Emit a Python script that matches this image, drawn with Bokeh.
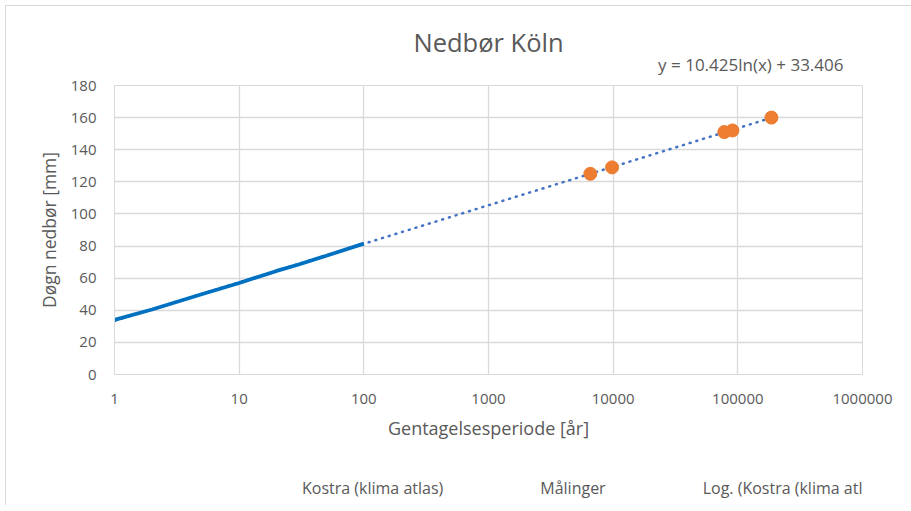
from bokeh.plotting import figure
from bokeh.layouts import column
from bokeh.models import (Range1d, FixedTicker, CustomJSTickFormatter, Legend, LegendItem, Title)
from bokeh.embed import file_html
from bokeh.resources import INLINE
import math

# ---- data ----
kostra_T = [1, 2, 5, 10, 20, 30, 50, 100]
kostra_mm = [34.0, 40.5, 50.0, 57.0, 64.5, 68.5, 74.0, 81.5]
maal_T = [6560, 9800, 77900, 90500, 186000]
maal_mm = [125.0, 129.0, 151.0, 152.0, 160.0]
trend_a = 10.425
trend_b = 33.406
trend_T = [1, 186000]
x_ticks = [1, 10, 100, 1000, 10000, 100000, 1000000]
y_ticks = [0, 20, 40, 60, 80, 100, 120, 140, 160, 180]

trend_mm = [trend_a * math.log(t) + trend_b for t in trend_T]

FONT = "Open Sans"
TXT = "#595959"
GRID = "#d9d9d9"
KOSTRA_C = "#0070C0"
MAAL_C = "#ED7D31"
TREND_C = "#4472C4"

p = figure(frame_width=748, frame_height=289, x_axis_type="log",
           x_range=Range1d(1, 1000000), y_range=Range1d(0, 180),
           output_backend="svg", toolbar_location=None,
           min_border_left=108, min_border_right=49,
           min_border_top=79, min_border_bottom=84)

p.outline_line_color = GRID
p.background_fill_color = "white"

# title
p.title.text = "Nedbør Köln"
p.title.align = "center"
p.title.text_font = FONT
p.title.text_font_size = "25.5px"
p.title.text_font_style = "normal"
p.title.text_color = TXT
p.title.standoff = -37

eq = Title(text="y = 10.425ln(x) + 33.406", align="right", offset=19,
           text_font=FONT, text_font_size="17px", text_font_style="normal",
           text_color=TXT, standoff=20)
p.add_layout(eq, "above")

# axes
p.xaxis.ticker = FixedTicker(ticks=x_ticks, minor_ticks=[])
p.xaxis.formatter = CustomJSTickFormatter(code="return tick.toFixed(0);")
p.yaxis.ticker = FixedTicker(ticks=y_ticks, minor_ticks=[])
for ax in (p.xaxis[0], p.yaxis[0]):
    ax.axis_line_color = GRID
    ax.major_tick_line_color = None
    ax.minor_tick_line_color = None
    ax.major_tick_out = 0
    ax.major_label_text_font = FONT
    ax.major_label_text_font_size = "15px"
    ax.major_label_text_color = TXT
    ax.axis_label_text_font = FONT
    ax.axis_label_text_font_style = "normal"
    ax.axis_label_text_color = TXT
p.xaxis.axis_label_text_font_size = "18px"
p.yaxis.axis_label_text_font_size = "17.5px"
p.xaxis.major_label_standoff = 19
p.yaxis.major_label_standoff = 18
p.xaxis.axis_label = "Gentagelsesperiode [år]"
p.yaxis.axis_label = "Døgn nedbør [mm]"
p.xaxis.axis_label_standoff = 9
p.yaxis.axis_label_standoff = 7

p.xgrid.ticker = FixedTicker(ticks=x_ticks, minor_ticks=[])
p.ygrid.ticker = FixedTicker(ticks=y_ticks, minor_ticks=[])
p.xgrid.grid_line_color = GRID
p.ygrid.grid_line_color = GRID
p.xgrid.grid_line_width = 1.3
p.ygrid.grid_line_width = 1.3

# glyphs
p.line(trend_T, trend_mm, line_color=TREND_C, line_width=2.5,
       line_dash="1 6", line_cap="round")
p.line(kostra_T, kostra_mm, line_color=KOSTRA_C, line_width=3.8)
p.scatter(maal_T, maal_mm, size=13, fill_color=MAAL_C, line_color=MAAL_C)

# ---- legend strip below the chart (own small figure) ----
lg = figure(width=905, height=47, x_range=Range1d(0, 1), y_range=Range1d(0, 1),
            output_backend="svg", toolbar_location=None, min_border=0)
lg.axis.visible = False
lg.grid.visible = False
lg.outline_line_color = None
lk = lg.line(x=[], y=[], line_color=KOSTRA_C, line_width=3.8)
lm = lg.scatter(x=[], y=[], size=13, fill_color=MAAL_C, line_color=MAAL_C)
lt = lg.line(x=[], y=[], line_color=TREND_C, line_width=2.5,
             line_dash="1 6", line_cap="round")

legend = Legend(items=[
    LegendItem(label="Kostra (klima atlas)", renderers=[lk]),
    LegendItem(label="Målinger", renderers=[lm]),
    LegendItem(label="Log. (Kostra (klima atlas))", renderers=[lt]),
], orientation="horizontal", location=(128, 6))
legend.label_text_font = FONT
legend.label_text_font_size = "16px"
legend.label_text_color = TXT
legend.glyph_width = 55
legend.label_standoff = 5
legend.spacing = 37
legend.border_line_color = None
legend.background_fill_alpha = 0
legend.margin = 0
legend.padding = 0
lg.add_layout(legend, "center")

layout = column(p, lg, spacing=0,
                styles={"margin-left": "5px", "margin-top": "5px",
                        "border-left": "1px solid #d9d9d9",
                        "border-top": "1px solid #d9d9d9"})

open("out.html", "w").write(file_html(layout, INLINE))
